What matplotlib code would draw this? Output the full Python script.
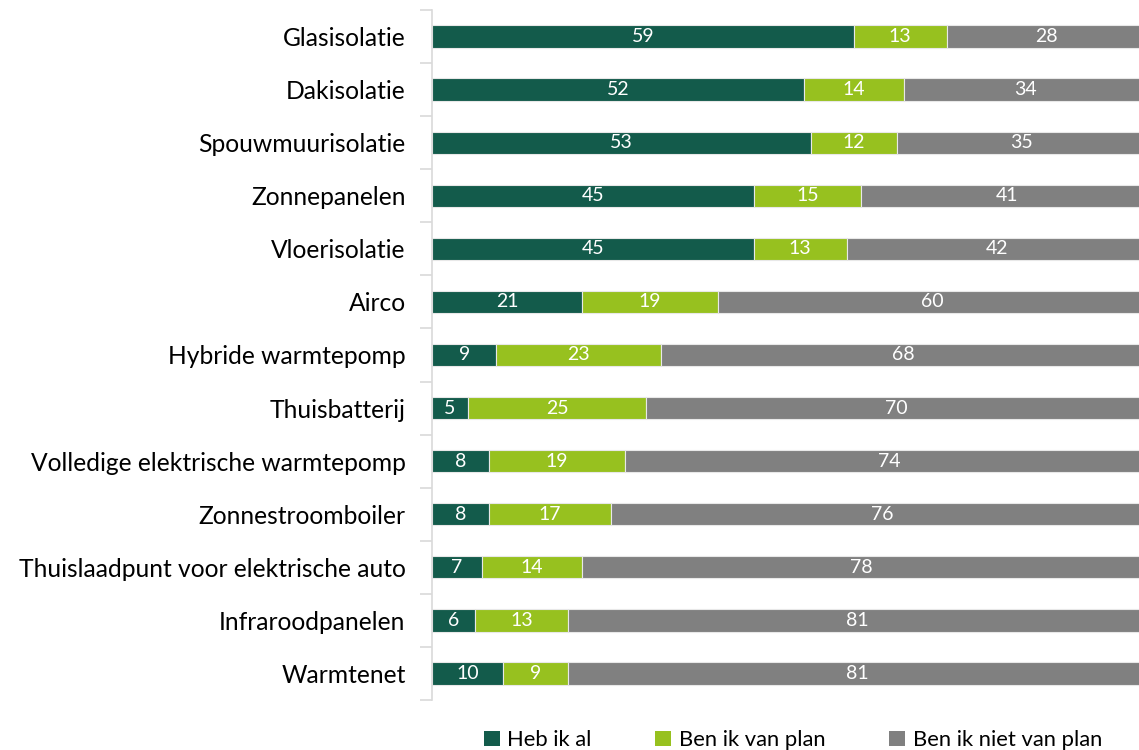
import matplotlib
matplotlib.use("Agg")
import matplotlib.pyplot as plt
from matplotlib.patches import Patch

categories = ["Glasisolatie", "Dakisolatie", "Spouwmuurisolatie", "Zonnepanelen",
              "Vloerisolatie", "Airco", "Hybride warmtepomp", "Thuisbatterij",
              "Volledige elektrische warmtepomp", "Zonnestroomboiler",
              "Thuislaadpunt voor elektrische auto", "Infraroodpanelen", "Warmtenet"]
heb_ik_al = [59, 52, 53, 45, 45, 21, 9, 5, 8, 8, 7, 6, 10]
van_plan = [13, 14, 12, 15, 13, 19, 23, 25, 19, 17, 14, 13, 9]
niet_van_plan = [28, 34, 35, 41, 42, 60, 68, 70, 74, 76, 78, 81, 81]
series_names = ["Heb ik al", "Ben ik van plan", "Ben ik niet van plan"]
colors = ["#135B4B", "#97C11F", "#808080"]

W, H = 1139, 750
fig = plt.figure(figsize=(W / 100, H / 100), dpi=100)
ax = fig.add_axes([432 / W, 50 / H, (W - 432) / W, 690 / H])

y = list(range(len(categories)))
left = [0] * len(categories)
for vals, col in zip([heb_ik_al, van_plan, niet_van_plan], colors):
    ax.barh(y, vals, left=left, height=0.42, color=col,
            edgecolor="#E8E8E8", linewidth=0.8)
    for yi, v, l in zip(y, vals, left):
        ax.text(l + v / 2, yi, str(v), ha="center", va="center",
                color="white", fontsize=14, family="Lato")
    left = [a + b for a, b in zip(left, vals)]

ax.set_ylim(len(categories) - 0.5, -0.5)
ax.set_xlim(0, 98.9)
ax.set_yticks(y)
ax.set_yticklabels(categories, fontsize=17.7, family="Lato")
ax.tick_params(axis="y", length=0, pad=19)
ax.set_yticks([i + 0.5 for i in range(-1, len(categories))], minor=True)
ax.tick_params(axis="y", which="minor", length=9, color="#D9D9D9", width=1.2)
ax.set_xticks([])
for s in ["top", "right", "bottom"]:
    ax.spines[s].set_visible(False)
ax.spines["left"].set_color("#D9D9D9")
ax.spines["left"].set_linewidth(1.2)

handles = [Patch(facecolor=c, edgecolor="none") for c in colors]
fig.legend(handles, series_names, loc="center", bbox_to_anchor=(793 / W, 1 - 740 / H),
           ncol=3, frameon=False, prop={"family": "Lato", "size": 15.8},
           handlelength=0.72, handleheight=0.72, handletextpad=0.35, columnspacing=2.9)

fig.savefig("out.png", dpi=100)
